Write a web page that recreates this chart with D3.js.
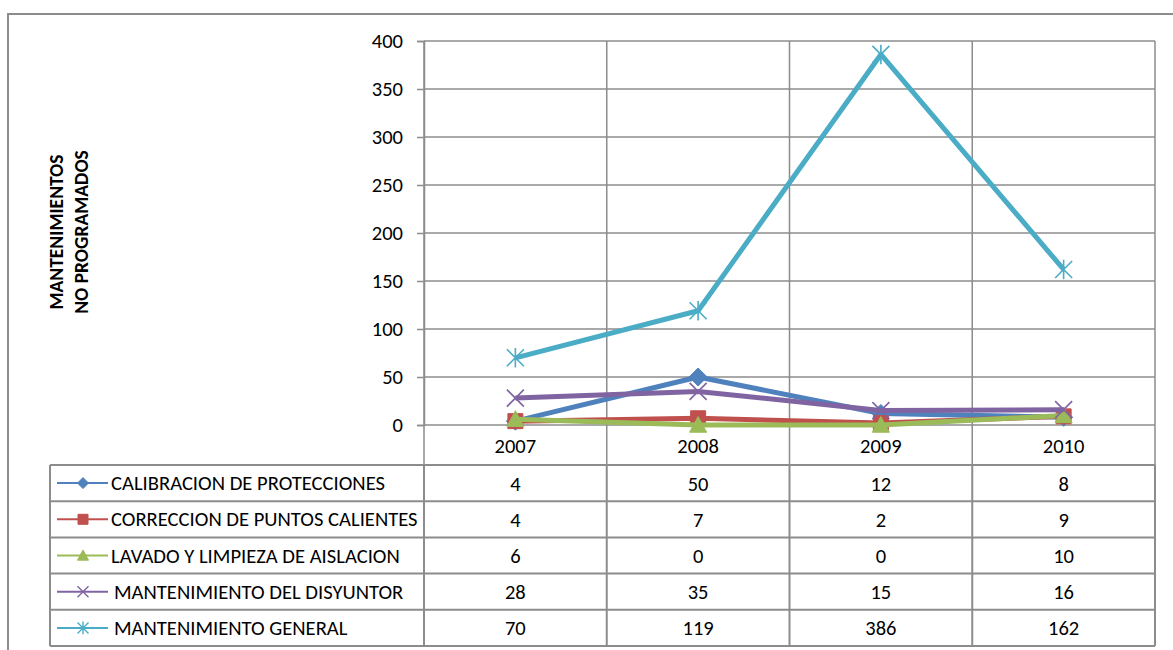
<!DOCTYPE html>
<html>
<head>
<meta charset="utf-8">
<script src="https://cdn.jsdelivr.net/npm/d3@7/dist/d3.min.js"></script>
<style>
  html, body { margin: 0; padding: 0; background: #fff; }
  svg { display: block; font-family: Carlito, Calibri, Lato, "Open Sans", sans-serif; }
</style>
</head>
<body>
<svg id="chart" width="1173" height="650"></svg>
<script>
// Years on the category axis
const years = ["2007", "2008", "2009", "2010"];

// Series names (table / legend rows)
const seriesNames = [
  "CALIBRACION DE PROTECCIONES",
  "CORRECCION DE PUNTOS CALIENTES",
  "LAVADO Y LIMPIEZA DE AISLACION",
  "MANTENIMIENTO DEL DISYUNTOR",
  "MANTENIMIENTO GENERAL"
];

// Values per series, one per year
const calibracion = [4, 50, 12, 8];
const correccion = [4, 7, 2, 9];
const lavado = [6, 0, 0, 10];
const disyuntor = [28, 35, 15, 16];
const general = [70, 119, 386, 162];

const yTicks = [0, 50, 100, 150, 200, 250, 300, 350, 400];

const seriesColors = ["#4F81BD", "#C0504D", "#9BBB59", "#8064A2", "#4BACC6"];
const markerTypes = ["diamond", "square", "triangle", "x", "star"];

const series = [calibracion, correccion, lavado, disyuntor, general].map((vals, i) => ({
  name: seriesNames[i], values: vals, color: seriesColors[i], marker: markerTypes[i]
}));

const svg = d3.select("#chart");
const gridColor = "#8c8c8c";
const fontStack = "Carlito, Calibri, Lato, 'Open Sans', sans-serif";
const numSize = 20.5;

// Outer chart frame
svg.append("rect")
  .attr("x", 8).attr("y", 14).attr("width", 1180).attr("height", 660)
  .attr("fill", "none").attr("stroke", gridColor).attr("stroke-width", 2);

const plot = { left: 424, right: 1155, top: 41, bottom: 425 };
const tableTop = 465, rowH = 36.2, legendLeft = 50;

const x = d3.scaleBand().domain(years).range([plot.left, plot.right]);
const y = d3.scaleLinear().domain([0, 400]).range([plot.bottom, plot.top]);

// Horizontal gridlines
svg.append("g").selectAll("line").data(yTicks).join("line")
  .attr("x1", plot.left).attr("x2", plot.right)
  .attr("y1", d => y(d)).attr("y2", d => y(d))
  .attr("stroke", gridColor).attr("stroke-width", 1.5);

// Vertical gridlines between categories, running down into the category row
const bounds = years.map(d => x(d)).concat([plot.right]);
svg.append("g").selectAll("line").data(bounds).join("line")
  .attr("x1", d => d).attr("x2", d => d)
  .attr("y1", plot.top).attr("y2", tableTop)
  .attr("stroke", gridColor).attr("stroke-width", 1.5);

// Y axis
const yAxis = svg.append("g")
  .attr("transform", `translate(${plot.left},0)`)
  .call(d3.axisLeft(y).tickValues(yTicks).tickSize(7).tickPadding(14));
yAxis.select(".domain").attr("stroke", gridColor).attr("stroke-width", 1.5);
yAxis.selectAll(".tick line").attr("stroke", gridColor).attr("stroke-width", 1.5);
yAxis.selectAll(".tick text").attr("font-size", numSize).attr("fill", "#000")
  .style("font-family", fontStack);

// Year labels in the category row
svg.append("g").selectAll("text").data(years).join("text")
  .attr("x", d => x(d) + x.bandwidth() / 2).attr("y", 452.5)
  .attr("text-anchor", "middle").attr("font-size", numSize).text(d => d);

// Y axis title (two lines, rotated)
const title = svg.append("text")
  .attr("transform", "translate(63,232) rotate(-90)")
  .attr("text-anchor", "middle").attr("font-size", 19.5).attr("font-weight", "bold");
title.append("tspan").attr("x", 0).attr("dy", 0).text("MANTENIMIENTOS");
title.append("tspan").attr("x", 0).attr("dy", 25).text("NO PROGRAMADOS");

// Marker shapes
function markerPath(type, s) {
  const h = s / 2;
  switch (type) {
    case "diamond": return `M0,${-h}L${h},0L0,${h}L${-h},0Z`;
    case "square": return `M${-h},${-h}H${h}V${h}H${-h}Z`;
    case "triangle": return `M0,${-h}L${h},${h * 0.85}L${-h},${h * 0.85}Z`;
    case "x": return `M${-h},${-h}L${h},${h}M${h},${-h}L${-h},${h}`;
    case "star": return `M${-h},${-h}L${h},${h}M${h},${-h}L${-h},${h}M0,${-h * 1.15}V${h * 1.15}`;
  }
}
function drawMarker(g, type, color, s, cx, cy, strokeW) {
  const filled = ["diamond", "square", "triangle"].includes(type);
  g.append("path")
    .attr("transform", `translate(${cx},${cy})`)
    .attr("d", markerPath(type, s))
    .attr("fill", filled ? color : "none")
    .attr("stroke", color)
    .attr("stroke-width", filled ? 1 : strokeW);
}

// Series lines and markers
const line = d3.line()
  .x((d, i) => x(years[i]) + x.bandwidth() / 2)
  .y(d => y(d));

const lines = svg.append("g");
series.forEach(s => {
  const g = lines.append("g");
  g.append("path").datum(s.values)
    .attr("d", line).attr("fill", "none")
    .attr("stroke", s.color).attr("stroke-width", 5)
    .attr("stroke-linejoin", "round");
  s.values.forEach((v, i) => {
    const size = s.marker === "square" ? 15 : s.marker === "diamond" ? 18 : 17;
    drawMarker(g, s.marker, s.color, size, x(years[i]) + x.bandwidth() / 2, y(v), 1.6);
  });
});

// Data table with legend keys
const table = svg.append("g");
const tableBottom = tableTop + rowH * series.length;
// horizontal rules
d3.range(series.length + 1).forEach(r => {
  table.append("line")
    .attr("x1", legendLeft).attr("x2", plot.right)
    .attr("y1", tableTop + r * rowH).attr("y2", tableTop + r * rowH)
    .attr("stroke", gridColor).attr("stroke-width", 2);
});
// vertical rules
[legendLeft].concat(bounds).forEach(xv => {
  table.append("line")
    .attr("x1", xv).attr("x2", xv)
    .attr("y1", tableTop).attr("y2", tableBottom)
    .attr("stroke", gridColor).attr("stroke-width", 2);
});

series.forEach((s, r) => {
  const cy = tableTop + r * rowH + rowH / 2;
  table.append("line")
    .attr("x1", 57).attr("x2", 108).attr("y1", cy).attr("y2", cy)
    .attr("stroke", s.color).attr("stroke-width", 2);
  const ms = s.marker === "square" ? 10 : 11;
  drawMarker(table, s.marker, s.color, ms, 83, cy, 1.4);
  table.append("text")
    .attr("x", s.marker === "x" || s.marker === "star" ? 114 : 111).attr("y", cy + 7)
    .attr("font-size", 20.6).text(s.name);
  s.values.forEach((v, i) => {
    table.append("text")
      .attr("x", x(years[i]) + x.bandwidth() / 2).attr("y", cy + 7.5)
      .attr("text-anchor", "middle").attr("font-size", numSize).text(v);
  });
});
</script>
</body>
</html>
